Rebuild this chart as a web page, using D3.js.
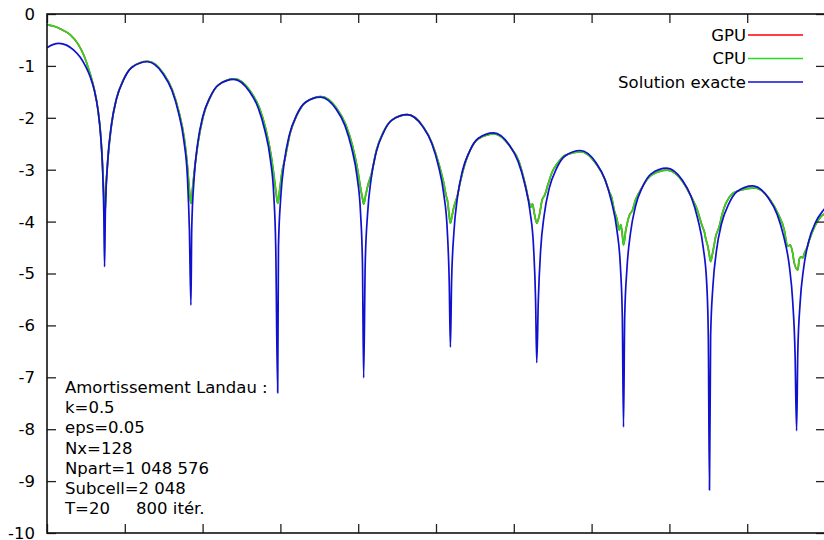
<!DOCTYPE html>
<html>
<head>
<meta charset="utf-8">
<script src="https://cdn.jsdelivr.net/npm/d3@7"></script>
<style>
  body { margin: 0; background: #fff; }
  text { font-family: "DejaVu Sans", sans-serif; }
</style>
</head>
<body>
<div id="chart"></div>
<script>
// temps (x) et log du champ (y)
var tExact = [
  0, 0.15, 0.31, 0.5, 0.68, 0.85, 1.0, 1.11, 1.22, 1.31, 1.38, 1.43, 1.46, 1.48,
  1.50, 1.56, 1.65, 1.78, 1.96, 2.18, 2.58, 2.98, 3.21, 3.38, 3.52, 3.61, 3.66, 3.70,
  3.72, 3.78, 3.87, 4.00, 4.18, 4.40, 4.80, 5.20, 5.43, 5.60, 5.74, 5.83, 5.88, 5.93,
  5.95, 6.01, 6.10, 6.23, 6.41, 6.63, 7.03, 7.43, 7.66, 7.83, 7.97, 8.06, 8.11, 8.14,
  8.18, 8.24, 8.33, 8.46, 8.64, 8.86, 9.26, 9.66, 9.89, 10.06, 10.20, 10.29, 10.34, 10.37,
  10.40, 10.46, 10.55, 10.68, 10.86, 11.08, 11.48, 11.88, 12.11, 12.28, 12.42, 12.51, 12.56, 12.59,
  12.63, 12.69, 12.78, 12.91, 13.09, 13.31, 13.71, 14.11, 14.34, 14.51, 14.65, 14.74, 14.79, 14.82,
  14.85, 14.91, 15.00, 15.13, 15.31, 15.53, 15.93, 16.33, 16.56, 16.73, 16.87, 16.96, 17.00, 17.03,
  17.06, 17.12, 17.21, 17.34, 17.52, 17.74, 18.14, 18.54, 18.77, 18.94, 19.08, 19.17, 19.23, 19.27,
  19.30, 19.36, 19.45, 19.58, 19.76, 19.98, 20.0]
var yExact = [
  -0.65, -0.59, -0.565, -0.60, -0.69, -0.83, -1.02, -1.21, -1.48, -1.85, -2.35, -3.0, -3.8, -4.87,
  -3.81, -2.84, -2.17, -1.65, -1.28, -1.03, -0.92, -1.15, -1.47, -1.90, -2.45, -3.15, -4.14, -5.61,
  -4.15, -3.18, -2.51, -1.99, -1.62, -1.37, -1.26, -1.49, -1.81, -2.24, -2.79, -3.49, -4.48, -7.30,
  -4.49, -3.52, -2.85, -2.33, -1.96, -1.71, -1.60, -1.83, -2.15, -2.58, -3.13, -3.83, -4.82, -7.01,
  -4.83, -3.86, -3.19, -2.67, -2.30, -2.05, -1.94, -2.17, -2.49, -2.92, -3.47, -4.17, -5.16, -6.42,
  -5.18, -4.21, -3.54, -3.02, -2.65, -2.40, -2.29, -2.52, -2.84, -3.27, -3.82, -4.52, -5.51, -6.72,
  -5.52, -4.55, -3.88, -3.36, -2.99, -2.74, -2.63, -2.86, -3.18, -3.61, -4.16, -4.86, -5.85, -7.96,
  -5.86, -4.89, -4.22, -3.70, -3.33, -3.08, -2.97, -3.20, -3.52, -3.95, -4.50, -5.20, -6.19, -9.17,
  -6.20, -5.23, -4.56, -4.04, -3.67, -3.42, -3.31, -3.54, -3.86, -4.29, -4.84, -5.54, -6.53, -8.03,
  -6.54, -5.57, -4.90, -4.38, -4.01, -3.76, -3.74]

var tCpu = [
  0, 0.2, 0.4, 0.6, 0.8, 0.95, 1.1, 1.22, 1.31, 1.38, 1.43, 1.46, 1.48,
  1.52, 1.57, 1.66, 1.79, 1.97, 2.19, 2.59, 2.99, 3.22, 3.39, 3.53, 3.60, 3.65, 3.70,
  3.75, 3.80, 3.89, 4.02, 4.20, 4.42, 4.82, 5.22, 5.45, 5.62, 5.76, 5.84, 5.89, 5.93,
  5.98, 6.04, 6.12, 6.25, 6.43, 6.65, 7.05, 7.45, 7.68, 7.85, 7.99, 8.06, 8.11, 8.14,
  8.19, 8.25, 8.34, 8.47, 8.65, 8.87, 9.27, 9.67, 9.90, 10.07, 10.21, 10.26, 10.30, 10.33, 10.37,
  10.41, 10.46, 10.55, 10.63, 10.72, 10.88, 11.10, 11.50, 11.90, 12.13, 12.25, 12.30, 12.38, 12.44, 12.48, 12.53, 12.59,
  12.65, 12.73, 12.80, 12.86, 12.99, 13.12, 13.32, 13.72, 14.12, 14.35, 14.45, 14.52, 14.58, 14.65, 14.71, 14.75, 14.79, 14.82,
  14.88, 14.92, 14.96, 15.05, 15.13, 15.20, 15.26, 15.36, 15.55, 15.95, 16.35, 16.58, 16.72, 16.80, 16.85, 16.90, 16.94, 16.98, 17.02, 17.06,
  17.11, 17.15, 17.19, 17.28, 17.36, 17.45, 17.62, 17.80, 18.18, 18.58, 18.80, 18.95, 19.04, 19.10, 19.17, 19.21, 19.30,
  19.34, 19.38, 19.43, 19.47, 19.54, 19.60, 19.73, 19.82, 19.90, 20.0]
var yCpu = [
  -0.21, -0.24, -0.31, -0.40, -0.58, -0.80, -1.13, -1.47, -1.84, -2.33, -2.95, -3.5, -3.95,
  -3.3, -2.75, -2.12, -1.62, -1.26, -1.02, -0.91, -1.14, -1.46, -1.88, -2.40, -2.85, -3.3, -3.65,
  -3.3, -2.95, -2.45, -1.96, -1.60, -1.36, -1.25, -1.48, -1.79, -2.20, -2.72, -3.15, -3.45, -3.65,
  -3.4, -3.05, -2.78, -2.30, -1.94, -1.70, -1.59, -1.82, -2.13, -2.53, -3.02, -3.35, -3.55, -3.66,
  -3.5, -3.3, -3.08, -2.62, -2.27, -2.04, -1.94, -2.17, -2.49, -2.88, -3.30, -3.50, -3.62, -3.82, -4.03,
  -3.9, -3.72, -3.50, -3.22, -2.95, -2.62, -2.40, -2.31, -2.55, -2.84, -3.15, -3.30, -3.58, -3.72, -3.66, -3.85, -4.03,
  -3.90, -3.58, -3.48, -3.33, -3.04, -2.88, -2.72, -2.65, -2.89, -3.20, -3.42, -3.55, -3.78, -3.95, -4.16, -4.06, -4.25, -4.45,
  -4.16, -4.02, -3.90, -3.78, -3.58, -3.47, -3.39, -3.26, -3.10, -3.01, -3.24, -3.55, -3.78, -3.98, -4.10, -4.20, -4.35, -4.45, -4.61, -4.77,
  -4.61, -4.45, -4.29, -4.10, -3.85, -3.65, -3.46, -3.40, -3.35, -3.57, -3.86, -4.15, -4.48, -4.45, -4.61, -4.80, -4.93,
  -4.72, -4.68, -4.70, -4.61, -4.50, -4.35, -4.10, -3.98, -3.90, -3.85]
// GPU et CPU se superposent a cette echelle
var tGpu = tCpu
var yGpu = yCpu

var xTicks = [0, 2, 4, 6, 8, 10, 12, 14, 16, 18, 20]
var yTicks = [0, -1, -2, -3, -4, -5, -6, -7, -8, -9, -10]
var seriesNames = ['GPU', 'CPU', 'Solution exacte']
var seriesColors = ['#ff0000', '#22dd22', '#1010d0']
var infoLines = ['Amortissement Landau :', 'k=0.5', 'eps=0.05', 'Nx=128',
  'Npart=1 048 576', 'Subcell=2 048', 'T=20     800 itér.']

var W = 824, H = 540
var margin = { top: 14, right: -1, bottom: 7, left: 47 }
var fs = '16.5px'

var svg = d3.select('#chart').append('svg')
  .attr('width', W)
  .attr('height', H)

var x = d3.scaleLinear().domain([0, 20]).range([margin.left, W - margin.right])
var y = d3.scaleLinear().domain([-10, 0]).range([H - margin.bottom, margin.top])

svg.append('clipPath').attr('id', 'clip')
  .append('rect')
  .attr('x', x(0)).attr('y', y(0))
  .attr('width', x(20) - x(0)).attr('height', y(-10) - y(0))

// courbes
var line = d3.line()
  .x(function (d) { return x(d[0]) })
  .y(function (d) { return y(d[1]) })
  .curve(d3.curveMonotoneX)

var series = [d3.zip(tGpu, yGpu), d3.zip(tCpu, yCpu), d3.zip(tExact, yExact)]
svg.append('g').attr('clip-path', 'url(#clip)')
  .selectAll('path')
  .data(series)
  .enter()
  .append('path')
  .attr('d', function (d) { return line(d) })
  .attr('fill', 'none')
  .attr('stroke', function (d, i) { return seriesColors[i] })
  .attr('stroke-width', 1.7)
  .attr('stroke-linejoin', 'round')

// axes (ticks vers l'interieur, facon gnuplot)
var tickLen = 9
svg.append('g').attr('transform', 'translate(0,' + y(-10) + ')')
  .call(d3.axisTop(x).tickValues(xTicks).tickSize(tickLen).tickFormat(''))
svg.append('g').attr('transform', 'translate(0,' + y(0) + ')')
  .call(d3.axisBottom(x).tickValues(xTicks).tickSize(tickLen).tickFormat(''))
svg.append('g').attr('transform', 'translate(' + x(0) + ',0)')
  .call(d3.axisRight(y).tickValues(yTicks).tickSize(tickLen).tickFormat(''))
svg.append('g').attr('transform', 'translate(' + x(20) + ',0)')
  .call(d3.axisLeft(y).tickValues(yTicks).tickSize(tickLen).tickFormat(''))
svg.selectAll('.domain').remove()
svg.selectAll('.tick line').attr('stroke', '#222').attr('stroke-width', 1.3)

svg.append('rect')
  .attr('x', x(0)).attr('y', y(0))
  .attr('width', x(20) - x(0)).attr('height', y(-10) - y(0))
  .attr('fill', 'none')
  .attr('stroke', '#111')
  .attr('stroke-width', 1.6)

svg.append('g').selectAll('text')
  .data(yTicks)
  .enter()
  .append('text')
  .attr('x', 35)
  .attr('y', function (d) { return y(d) })
  .attr('dy', '0.36em')
  .attr('text-anchor', 'end')
  .attr('font-size', fs)
  .attr('fill', '#000')
  .text(function (d) { return d })

// legende
var leg = svg.append('g').selectAll('g')
  .data(seriesNames)
  .enter()
  .append('g')
  .attr('transform', function (d, i) { return 'translate(0,' + (35 + i * 23.5) + ')' })
leg.append('text')
  .attr('x', 746)
  .attr('dy', '0.36em')
  .attr('text-anchor', 'end')
  .attr('font-size', fs)
  .text(function (d) { return d })
leg.append('line')
  .attr('x1', 748).attr('x2', 803)
  .attr('stroke', function (d, i) { return seriesColors[i] })
  .attr('stroke-width', 1.5)

// parametres de la simulation
svg.append('g').selectAll('text')
  .data(infoLines)
  .enter()
  .append('text')
  .attr('x', 65)
  .attr('y', function (d, i) { return 387 + i * 20.2 })
  .attr('dy', '0.36em')
  .attr('font-size', fs)
  .style('white-space', 'pre')
  .text(function (d) { return d })
</script>
</body>
</html>
